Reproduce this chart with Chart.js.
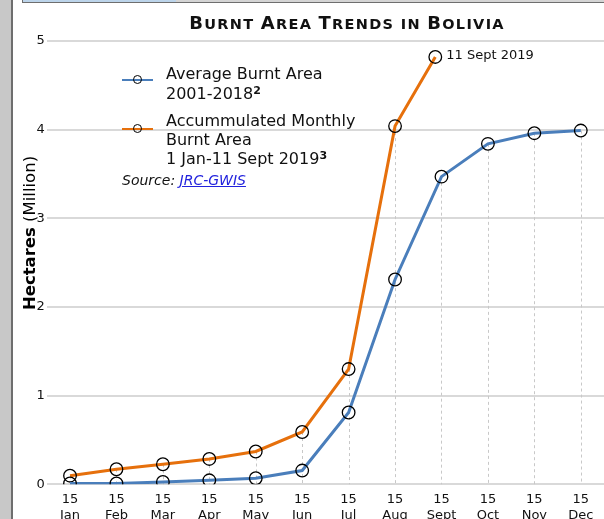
<!DOCTYPE html>
<html>
<head>
<meta charset="utf-8">
<script src="https://cdn.jsdelivr.net/npm/chart.js@4.4.0/dist/chart.umd.min.js"></script>
<style>
body { margin: 0; width: 604px; height: 519px; overflow: hidden; background: #fff; position: relative; font-family: "DejaVu Sans", Verdana, sans-serif; color: #111; }
#side { position: absolute; left: 0; top: 0; width: 11px; height: 519px; background: #c8c8c8; border-right: 2px solid #6e6e6e; }
#topbar { position: absolute; left: 22px; top: 0; width: 582px; height: 2px; background: linear-gradient(to right, #bcd4ea 0, #bcd4ea 153px, #d4d4d4 153px); border-bottom: 1px solid #6e6e6e; border-left: 1px solid #6e6e6e; }
#chartBox { position: absolute; left: 0; top: 0; width: 604px; height: 540px; }
#title { position: absolute; left: 47px; width: 600px; top: 11px; text-align: center; font-weight: bold; line-height: 24px; letter-spacing: 1.3px; white-space: nowrap; }
#title .big { font-size: 18px; }
#title .small { font-size: 14.5px; }
#legend { position: absolute; left: 122px; top: 64px; font-size: 16px; }
.row { position: relative; padding-left: 44px; line-height: 19px; margin-bottom: 7px; }
.swatch { position: absolute; left: 0; top: 15px; width: 31px; height: 2px; }
.swatch i { position: absolute; left: 11px; top: -4px; border: 1.3px solid #000; border-radius: 50%; box-sizing: border-box; width: 9px; height: 9px; }
sup { font-weight: bold; font-size: 11px; vertical-align: 5px; line-height: 0; }
#source { font-size: 14px; font-style: italic; margin-top: -3px; }
#source a { color: #2222dd; }
</style>
</head>
<body>
<div id="chartBox"><canvas id="burntChart" width="604" height="540"></canvas></div>
<div id="side"></div>
<div id="topbar"></div>
<div id="title"></div>
<div id="legend"></div>
<script>
// x positions are month indexes (0 = 15 Jan ... 11 = 15 Dec)
const months = ['Jan', 'Feb', 'Mar', 'Apr', 'May', 'Jun', 'Jul', 'Aug', 'Sept', 'Oct', 'Nov', 'Dec']
const avgBurnt = [0.01, 0.01, 0.026, 0.045, 0.068, 0.155, 0.81, 2.31, 3.47, 3.84, 3.96, 3.99]
const accBurnt = [0.097, 0.17, 0.226, 0.286, 0.37, 0.59, 1.30, 4.04]
const lastPointX = 8 - 4 / 30   // 11 Sept
const lastPointY = 4.82
const lastPointLabel = '11 Sept 2019'
const titleText = 'Burnt Area Trends in Bolivia'
const seriesNames = [['Average Burnt Area', '2001-2018'], ['Accummulated Monthly', 'Burnt Area', '1 Jan-11 Sept 2019']]
const seriesNotes = ['2', '3']
const seriesColors = ['#4a7ebb', '#e6700c']

const FONT = '"DejaVu Sans", Verdana, sans-serif'

const dropLines = {
    id: 'dropLines',
    beforeDatasetsDraw(chart) {
        const { ctx, scales: { x, y } } = chart
        const tops = {}
        chart.data.datasets.forEach(ds => ds.data.forEach(p => {
            if (Number.isInteger(p.x)) tops[p.x] = Math.max(tops[p.x] ?? 0, p.y)
        }))
        ctx.save()
        ctx.strokeStyle = '#c8c8c8'
        ctx.lineWidth = 1
        ctx.setLineDash([3, 3])
        for (const k in tops) {
            const px = Math.round(x.getPixelForValue(+k)) + 0.5
            ctx.beginPath()
            ctx.moveTo(px, y.getPixelForValue(tops[k]))
            ctx.lineTo(px, y.getPixelForValue(0))
            ctx.stroke()
        }
        ctx.restore()
    }
}

const extras = {
    id: 'extras',
    afterDraw(chart) {
        const { ctx } = chart
        // label for the last orange point
        const pts = chart.getDatasetMeta(1).data
        const last = pts[pts.length - 1]
        ctx.save()
        ctx.fillStyle = '#111'
        ctx.font = '13px ' + FONT
        ctx.textBaseline = 'middle'
        ctx.fillText(lastPointLabel, last.x + 11, last.y - 1)
        ctx.restore()

        // y axis title, two weights
        ctx.save()
        ctx.translate(30.5, 233)
        ctx.rotate(-Math.PI / 2)
        ctx.textBaseline = 'middle'
        ctx.fillStyle = '#000'
        ctx.font = 'bold 16.5px ' + FONT
        const a = 'Hectares'
        const wa = ctx.measureText(a).width
        ctx.font = '16.5px ' + FONT
        const b = ' (Million)'
        const wb = ctx.measureText(b).width
        let sx = -(wa + wb) / 2
        ctx.font = 'bold 16.5px ' + FONT
        ctx.fillText(a, sx, 0)
        ctx.font = '16.5px ' + FONT
        ctx.fillText(b, sx + wa, 0)
        ctx.restore()
    }
}

const burntChart = new Chart(document.getElementById('burntChart'), {
    type: 'line',
    data: {
        datasets: [{
            label: seriesNames[0].join(' '),
            data: avgBurnt.map((v, i) => ({ x: i, y: v })),
            borderColor: seriesColors[0]
        }, {
            label: seriesNames[1].join(' '),
            data: accBurnt.map((v, i) => ({ x: i, y: v })).concat([{ x: lastPointX, y: lastPointY }]),
            borderColor: seriesColors[1]
        }].map(ds => Object.assign(ds, {
            pointBorderColor: '#000',
            pointBackgroundColor: 'transparent',
            pointRadius: 6.3,
            pointBorderWidth: 1.3,
            borderWidth: 3,
            tension: 0
        }))
    },
    options: {
        responsive: false,
        animation: false,
        layout: { autoPadding: false, padding: { top: 41, right: 0, left: 0, bottom: 0 } },
        plugins: { legend: { display: false }, tooltip: { enabled: false } },
        scales: {
            x: {
                type: 'linear',
                min: -0.5,
                max: 11.5,
                afterBuildTicks: axis => { axis.ticks = months.map((m, i) => ({ value: i })) },
                afterFit: axis => { axis.height = 55.7; axis.paddingLeft = 0; axis.paddingRight = 0 },
                ticks: {
                    callback: v => ['15', months[v]],
                    font: { family: FONT, size: 13, lineHeight: 1.25 },
                    color: '#111',
                    padding: -1,
                    maxRotation: 0,
                    autoSkip: false
                },
                grid: { display: false },
                border: { display: false }
            },
            y: {
                min: 0,
                max: 5,
                afterFit: axis => { axis.width = 46.8; axis.paddingTop = 0; axis.paddingBottom = 0 },
                ticks: { stepSize: 1, font: { family: FONT, size: 13 }, color: '#111', padding: 2 },
                grid: { color: '#d9d9d9', lineWidth: 2, drawTicks: false },
                border: { display: false }
            }
        }
    },
    plugins: [dropLines, extras]
})

// title in small capitals
const titleEl = document.getElementById('title')
titleText.split('').forEach(ch => {
    const s = document.createElement('span')
    const isBig = ch !== ' ' && ch === ch.toUpperCase()
    s.className = isBig ? 'big' : 'small'
    s.textContent = ch.toUpperCase()
    titleEl.appendChild(s)
})

// html legend built from the series lists
const legendEl = document.getElementById('legend')
seriesNames.forEach((lines, i) => {
    const row = document.createElement('div')
    row.className = 'row'
    const sw = document.createElement('div')
    sw.className = 'swatch'
    sw.style.background = seriesColors[i]
    sw.style.top = (i === 0 ? 15 : 17) + 'px'
    sw.appendChild(document.createElement('i'))
    row.appendChild(sw)
    lines.forEach((t, j) => {
        const d = document.createElement('div')
        d.textContent = t
        if (j === lines.length - 1) {
            const s = document.createElement('sup')
            s.textContent = seriesNotes[i]
            d.appendChild(s)
        }
        if (i === 0) d.style.lineHeight = '20px'
        row.appendChild(d)
    })
    legendEl.appendChild(row)
})
const src = document.createElement('div')
src.id = 'source'
src.innerHTML = 'Source: <a href="#">JRC-GWIS</a>'
legendEl.appendChild(src)
</script>
</body>
</html>
